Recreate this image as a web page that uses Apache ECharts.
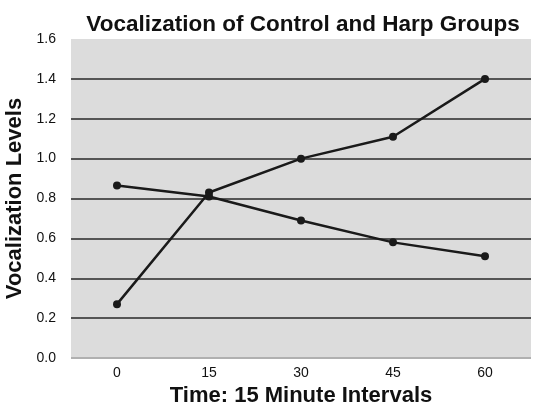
<!DOCTYPE html>
<html>
<head>
<meta charset="utf-8">
<script src="https://cdn.jsdelivr.net/npm/echarts@6/dist/echarts.min.js"></script>
<style>
  html, body { margin: 0; padding: 0; background: #fff; }
  #main { width: 533px; height: 414px; }
</style>
</head>
<body>
<div id="main"></div>
<script>
// time points (minutes)
var timeLabels = ["0", "15", "30", "45", "60"];
// vocalization levels
var harpData = [0.27, 0.83, 1.0, 1.11, 1.4];
var controlData = [0.865, 0.81, 0.69, 0.58, 0.51];

var font = "'Liberation Sans', Arial, Helvetica, sans-serif";

var myChart = echarts.init(document.getElementById("main"));

var option = {
  backgroundColor: "#ffffff",
  animation: false,
  title: {
    text: "Vocalization of Control and Harp Groups",
    left: 298,
    textAlign: "center",
    top: 8,
    textStyle: {
      fontFamily: font,
      fontWeight: "bold",
      fontSize: 22.5,
      color: "#111",
    },
  },
  grid: {
    left: 71,
    right: 2,
    top: 39,
    bottom: 56,
    outerBoundsMode: "none",
    containLabel: false,
    show: true,
    backgroundColor: "#dcdcdc",
    borderWidth: 0,
  },
  xAxis: {
    type: "category",
    data: timeLabels,
    name: "Time: 15 Minute Intervals",
    nameLocation: "middle",
    nameGap: 20,
    nameTextStyle: {
      fontFamily: font,
      fontWeight: "bold",
      fontSize: 22,
      color: "#111",
    },
    axisLine: { show: false },
    axisTick: { show: false },
    axisLabel: {
      margin: 8,
      fontFamily: font,
      fontSize: 14,
      color: "#111",
    },
  },
  yAxis: {
    type: "value",
    min: 0,
    max: 1.6,
    interval: 0.2,
    name: "Vocalization Levels",
    nameLocation: "middle",
    nameGap: 42,
    nameTextStyle: {
      fontFamily: font,
      fontWeight: "bold",
      fontSize: 22,
      color: "#111",
    },
    axisLine: { show: false },
    axisTick: { show: false },
    axisLabel: {
      margin: 15,
      fontFamily: font,
      fontSize: 14,
      color: "#111",
      formatter: function (v) {
        return v.toFixed(1);
      },
    },
    splitLine: {
      show: true,
      lineStyle: {
        width: 2,
        color: ["#b0b0b0", "#555", "#555", "#555", "#555", "#555", "#555", "#555", "rgba(0,0,0,0)"],
      },
    },
  },
  series: [
    {
      name: "Harp",
      type: "line",
      data: harpData,
      symbol: "circle",
      symbolSize: 8,
      lineStyle: { color: "#1a1a1a", width: 2.5 },
      itemStyle: { color: "#1a1a1a" },
    },
    {
      name: "Control",
      type: "line",
      data: controlData,
      symbol: "circle",
      symbolSize: 8,
      lineStyle: { color: "#1a1a1a", width: 2.5 },
      itemStyle: { color: "#1a1a1a" },
    },
  ],
};

myChart.setOption(option);
</script>
</body>
</html>
